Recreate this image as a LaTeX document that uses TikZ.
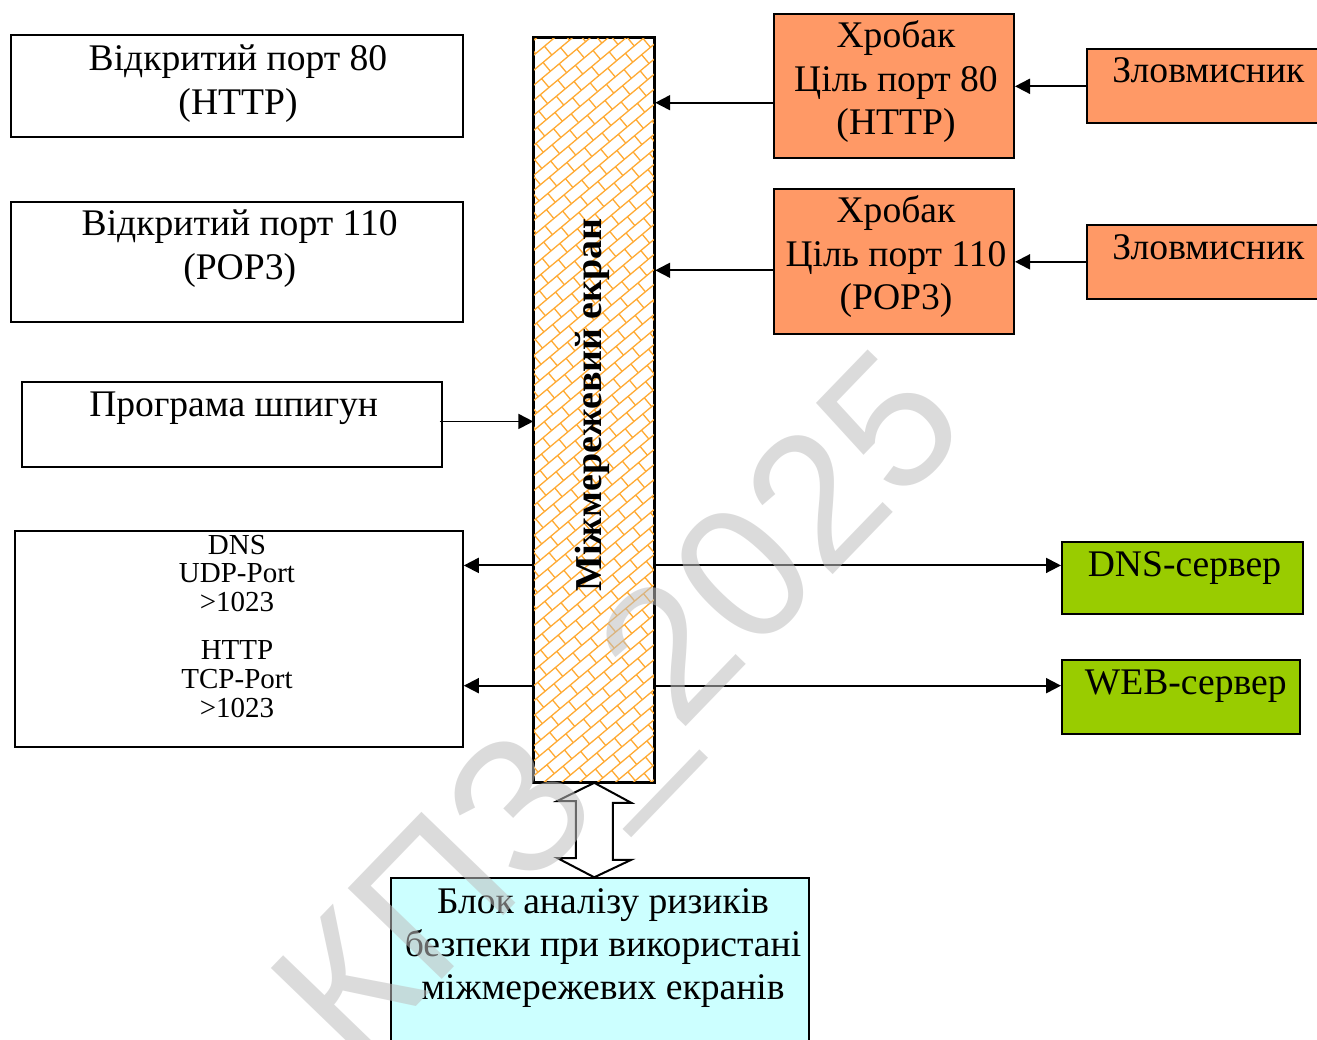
\documentclass[tikz,border=0pt]{standalone}
\usepackage{fontspec}
\setmainfont{Liberation Serif}
\newfontfamily\wmfont{Liberation Sans}
\usetikzlibrary{arrows.meta}
\definecolor{wormc}{RGB}{255,153,102}
\definecolor{srvc}{RGB}{153,204,0}
\definecolor{riskc}{RGB}{204,255,255}
\definecolor{brickc}{RGB}{255,170,51}
\definecolor{wmc}{RGB}{190,190,190}
\begin{document}
\begin{tikzpicture}[x=1pt,y=-1pt,
  box/.style={draw, line width=2pt, inner sep=0pt, anchor=north west},
  txt/.style={font=\fontsize{37.6}{44.3}\selectfont, align=center, anchor=base, inner sep=0pt},
  smalltxt/.style={font=\fontsize{29}{28.8}\selectfont, align=center, anchor=base, inner sep=0pt},
  arr/.style={line width=1.9pt, -{Triangle[length=15pt,width=15pt]}},
  brick/.style={draw=brickc, line width=1.3pt},
  dblarrow/.style={draw, line width=2pt, fill=white, line join=miter}]
\useasboundingbox (0,0) rectangle (1317,1040);

% left column
\node[box, minimum width=451.7pt, minimum height=101.4pt] (p80) at (10,34.3) {};
\node[txt] (tp80) at (238,115) {Відкритий порт 80\\(HTTP)};
\node[box, minimum width=451.7pt, minimum height=120.3pt] (p110) at (10,200.7) {};
\node[txt] (tp110) at (239.7,280) {Відкритий порт 110\\(POP3)};
\node[box, minimum width=420pt, minimum height=85.3pt] (spy) at (20.7,380.7) {};
\node[txt] (tspy) at (233.7,416) {Програма шпигун};
\node[box, minimum width=447.8pt, minimum height=215.9pt] (ports) at (14,529.7) {};
\node[smalltxt] (tports) at (237,717) {DNS\\UDP-Port\\>1023\\[19pt]HTTP\\TCP-Port\\>1023};

% firewall
\node[box, fill=white, minimum width=119.9pt, minimum height=744.1pt] (fw) at (533.3,36.7) {};
\begin{scope}
\clip (fw.south west) rectangle (fw.north east);
\begin{scope}[shift={(fw.center)}, rotate=40]
\foreach \r [evaluate=\r as \off using {mod(\r+100,2)*11.5}] in {-38,...,38}{
  \draw[brick] (-440,\r*11.5) -- (440,\r*11.5)
    \foreach \k in {-20,...,20}{ (\k*23+\off,\r*11.5) -- ++(0,11.5) };
}
\end{scope}
\end{scope}
\draw[line width=2pt] (fw.south west) rectangle (fw.north east);
\node[font=\bfseries\fontsize{38}{44}\selectfont, rotate=90, anchor=base, inner sep=0pt] (fwl) at (601.5,405) {Міжмережевий екран};

% right column
\node[box, fill=wormc, minimum width=240pt, minimum height=144.6pt] (w1) at (773,12.7) {};
\node[txt, font=\fontsize{37.6}{43.6}\selectfont] (tw1) at (896,135) {Хробак\\Ціль порт 80\\(HTTP)};
\node[box, fill=wormc, minimum width=240pt, minimum height=145pt] (w2) at (773,188) {};
\node[txt, font=\fontsize{37.6}{43.6}\selectfont] (tw2) at (896,310) {Хробак\\Ціль порт 110\\(POP3)};
\node[box, fill=wormc, minimum width=245pt, minimum height=74pt] (a1) at (1085.5,48.3) {};
\node[txt] (ta1) at (1208.4,82.7) {Зловмисник};
\node[box, fill=wormc, minimum width=245pt, minimum height=73.7pt] (a2) at (1085.5,224) {};
\node[txt] (ta2) at (1208.4,259.3) {Зловмисник};
\node[box, fill=srvc, minimum width=240.7pt, minimum height=72pt] (dnsS) at (1061,541) {};
\node[txt] (tdnsS) at (1184.5,576.7) {DNS-сервер};
\node[box, fill=srvc, minimum width=238pt, minimum height=74.3pt] (webS) at (1061,659) {};
\node[txt] (twebS) at (1185.7,694.3) {WEB-сервер};

% risk block
\node[box, fill=riskc, minimum width=418.7pt, minimum height=180pt] (risk) at (389.5,877.3) {};
\node[txt, font=\fontsize{37.6}{43.4}\selectfont] (trisk) at (603,999.8) {Блок аналізу ризиків\\безпеки при використані\\міжмережевих екранів};

% connectors
\draw[arr] (a1.west) -- (a1.west -| w1.east);
\draw[arr] (a2.west) -- (a2.west -| w2.east);
\coordinate (w1o) at ([yshift=-16.7pt]w1.west);
\coordinate (w2o) at ([yshift=-8.8pt]w2.west);
\draw[arr] (w1o) -- (w1o -| fw.east);
\draw[arr] (w2o) -- (w2o -| fw.east);
\coordinate (spyo) at ([yshift=2.9pt,xshift=-3pt]spy.east);
\draw[arr] (spyo) -- (spyo -| fw.west);
\coordinate (r1) at (0,565.4);
\coordinate (r2) at (0,685.7);
\draw[arr] (fw.west |- r1) -- (ports.east |- r1);
\draw[arr] (fw.west |- r2) -- (ports.east |- r2);
\draw[arr] (fw.east |- r1) -- (dnsS.west |- r1);
\draw[arr] (fw.east |- r2) -- (webS.west |- r2);
\draw[dblarrow] (fw.south) -- ++(37,20) -- ++(-18.5,0) -- ++(0,57) -- ++(18.5,0)
  -- (fw.south |- risk.north) -- ++(-37,-19.3) -- ++(18.5,0) -- ++(0,-57) -- ++(-18.5,0) -- cycle;

% watermark
\node[font=\wmfont\fontsize{190}{190}\selectfont, text=wmc, text opacity=0.55, rotate=46, anchor=base, inner sep=0pt] (wm) at (664,750) {КПЗ\_2025};
\end{tikzpicture}
\end{document}
